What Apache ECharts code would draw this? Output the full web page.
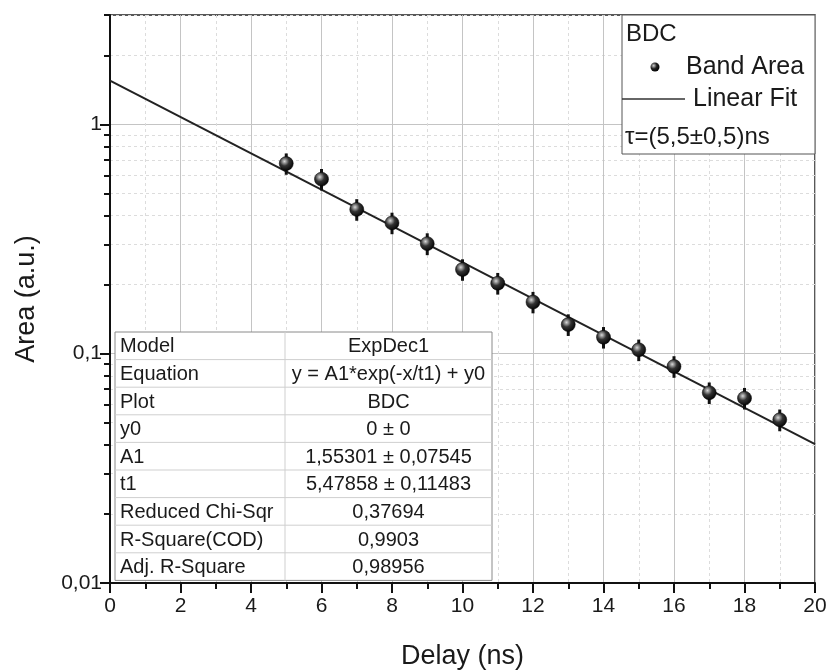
<!DOCTYPE html>
<html>
<head>
<meta charset="utf-8">
<script src="https://cdn.jsdelivr.net/npm/echarts@6/dist/echarts.min.js"></script>
<style>html,body{margin:0;padding:0;background:#fff}#c{width:830px;height:671px}</style>
</head>
<body>
<div id="c"></div>
<script>
// ---- data ----
const delays = [5, 6, 7, 8, 9, 10, 11, 12, 13, 14, 15, 16, 17, 18, 19];
const areas = [0.675, 0.577, 0.426, 0.372, 0.302, 0.233, 0.203, 0.168, 0.134, 0.118, 0.104, 0.088, 0.0676, 0.064, 0.0515];
const areaErr = [0.072, 0.062, 0.046, 0.040, 0.033, 0.025, 0.022, 0.018, 0.0145, 0.0127, 0.0112, 0.0095, 0.0073, 0.0069, 0.0056];
const fitX = [0, 20];
const fitY = [1.553, 0.0403];
const yMajorTicks = [0.01, 0.1, 1];
const yMajorLabels = ['0,01', '0,1', '1'];
const yMinorTicks = [0.02, 0.03, 0.04, 0.05, 0.06, 0.07, 0.08, 0.09, 0.2, 0.3, 0.4, 0.5, 0.6, 0.7, 0.8, 0.9, 2, 3];
const xTickLabels = ['0', '2', '4', '6', '8', '10', '12', '14', '16', '18', '20'];
const tableNames = ['Model', 'Equation', 'Plot', 'y0', 'A1', 't1', 'Reduced Chi-Sqr', 'R-Square(COD)', 'Adj. R-Square'];
const tableValues = ['ExpDec1', 'y = A1*exp(-x/t1) + y0', 'BDC', '0 ± 0', '1,55301 ± 0,07545', '5,47858 ± 0,11483', '0,37694', '0,9903', '0,98956'];
const legendTitle = 'BDC';
const legendPoints = 'Band Area';
const legendFit = 'Linear Fit';
const legendTau = 'τ=(5,5±0,5)ns';

const FONT = 'Liberation Sans, Arial, sans-serif';
const TXT = '#1a1a1a';
const ZG = 100;

const chart = echarts.init(document.getElementById('c'), null, { renderer: 'canvas' });

const scatterData = delays.map((d, i) => [d, areas[i]]);
const errData = delays.map((d, i) => [d, areas[i] - areaErr[i], areas[i] + areaErr[i]]);
const fitData = fitX.map((x, i) => [x, fitY[i]]);

const logOpts = { type: 'log', logBase: 10, min: 0.01, max: 3 };

// table graphic
const tL = 115, tR = 492, tDiv = 285, tT = 332, rowH = 27.6;
const tableEls = [];
tableEls.push({ type: 'rect', z: ZG, shape: { x: tL, y: tT, width: tR - tL, height: rowH * tableNames.length }, style: { fill: '#fff', stroke: '#8a8a8a', lineWidth: 1 } });
for (let i = 1; i < tableNames.length; i++) {
  tableEls.push({ type: 'line', z: ZG + 1, shape: { x1: tL, y1: tT + rowH * i, x2: tR, y2: tT + rowH * i }, style: { stroke: '#cfcfcf', lineWidth: 1 } });
}
tableEls.push({ type: 'line', z: ZG + 1, shape: { x1: tDiv, y1: tT, x2: tDiv, y2: tT + rowH * tableNames.length }, style: { stroke: '#cfcfcf', lineWidth: 1 } });
tableNames.forEach((n, i) => {
  tableEls.push({ type: 'text', z: ZG + 2, x: tL + 5, y: tT + rowH * i + rowH / 2 + 1, style: { text: n, font: '20px ' + FONT, fill: TXT, textVerticalAlign: 'middle', verticalAlign: 'middle' } });
  tableEls.push({ type: 'text', z: ZG + 2, x: (tDiv + tR) / 2, y: tT + rowH * i + rowH / 2 + 1, style: { text: tableValues[i], font: '20px ' + FONT, fill: TXT, textAlign: 'center', align: 'center', textVerticalAlign: 'middle', verticalAlign: 'middle' } });
});

// legend graphic
const lL = 622, lR = 815, lT = 15, lB = 154;
const legendEls = [
  { type: 'rect', z: ZG, shape: { x: lL, y: lT, width: lR - lL, height: lB - lT }, style: { fill: '#fff', stroke: '#555', lineWidth: 1 } },
  { type: 'text', z: ZG + 2, x: lL + 4, y: 34, style: { text: legendTitle, font: '24px ' + FONT, fill: TXT, verticalAlign: 'middle', textVerticalAlign: 'middle' } },
  { type: 'circle', z: ZG + 2, shape: { cx: 655, cy: 67, r: 4.5 }, style: { fill: { type: 'radial', x: 0.35, y: 0.35, r: 0.7, colorStops: [{ offset: 0, color: '#cfcfcf' }, { offset: 0.5, color: '#222' }, { offset: 1, color: '#000' }] } } },
  { type: 'text', z: ZG + 2, x: 686, y: 67, style: { text: legendPoints, font: '25px ' + FONT, fill: TXT, verticalAlign: 'middle', textVerticalAlign: 'middle' } },
  { type: 'line', z: ZG + 2, shape: { x1: lL, y1: 99, x2: 685, y2: 99 }, style: { stroke: '#333', lineWidth: 1.5 } },
  { type: 'text', z: ZG + 2, x: 693, y: 99, style: { text: legendFit, font: '25px ' + FONT, fill: TXT, verticalAlign: 'middle', textVerticalAlign: 'middle' } },
  { type: 'text', z: ZG + 2, x: lL + 3, y: 137, style: { text: legendTau, font: '24px ' + FONT, fill: TXT, verticalAlign: 'middle', textVerticalAlign: 'middle' } }
];

const option = {
  animation: false,
  backgroundColor: '#fff',
  textStyle: { fontFamily: FONT },
  grid: { left: 110, right: 15, top: 15, bottom: 88, outerBoundsMode: 'none', containLabel: false, show: true, borderColor: '#222', borderWidth: 1.5, backgroundColor: 'transparent' },
  xAxis: [{
    type: 'value', min: 0, max: 20, interval: 2,
    name: 'Delay (ns)', nameLocation: 'middle', nameGap: 60,
    nameTextStyle: { fontSize: 27, color: TXT, fontFamily: FONT },
    axisLine: { show: true, onZero: false, lineStyle: { color: '#111', width: 2 } },
    axisTick: { show: true, inside: false, length: 10, lineStyle: { color: '#111', width: 2 } },
    minorTick: { show: true, splitNumber: 2, length: 6, lineStyle: { color: '#111', width: 2 } },
    axisLabel: { fontSize: 21, color: TXT, margin: 13, fontFamily: FONT, formatter: (v) => xTickLabels[Math.round(v / 2)] },
    splitLine: { show: true, lineStyle: { color: '#c4c4c4', width: 1 } },
    minorSplitLine: { show: true, lineStyle: { color: '#dcdcdc', width: 1, type: [3, 3] } }
  }],
  yAxis: [
    Object.assign({}, logOpts, {
      name: 'Area (a.u.)', nameLocation: 'middle', nameGap: 70, nameRotate: 90,
      nameTextStyle: { fontSize: 27, color: TXT, fontFamily: FONT },
      axisLine: { show: true, onZero: false, lineStyle: { color: '#111', width: 2 } },
      axisTick: { show: true, inside: false, length: 10, lineStyle: { color: '#111', width: 2 }, customValues: yMajorTicks },
      axisLabel: { fontSize: 21, color: TXT, margin: 8, fontFamily: FONT, customValues: yMajorTicks,
        formatter: (v) => { const i = yMajorTicks.findIndex(t => Math.abs(t - v) < 1e-9); return i >= 0 ? yMajorLabels[i] : ''; } },
      splitLine: { show: true, lineStyle: { color: '#c4c4c4', width: 1 } }
    }),
    Object.assign({}, logOpts, {
      position: 'left',
      axisLine: { show: false },
      axisTick: { show: true, inside: false, length: 6, lineStyle: { color: '#111', width: 2 }, customValues: yMinorTicks },
      axisLabel: { show: false },
      splitLine: { show: true, lineStyle: { color: '#dcdcdc', width: 1, type: [3, 3] } }
    })
  ],
  graphic: [
    { type: 'group', z: ZG, children: tableEls },
    { type: 'group', z: ZG, children: legendEls }
  ],
  series: [
    {
      type: 'line', name: 'Linear Fit', data: fitData, showSymbol: false, symbol: 'none',
      lineStyle: { color: '#222', width: 2 }, z: 3, silent: true
    },
    {
      type: 'custom', name: 'err', data: errData, z: 4,
      renderItem: (params, api) => {
        const x = api.value(0);
        const lo = api.coord([x, api.value(1)]);
        const hi = api.coord([x, api.value(2)]);
        return { type: 'line', shape: { x1: lo[0], y1: lo[1], x2: hi[0], y2: hi[1] }, style: { stroke: '#111', lineWidth: 3 } };
      }
    },
    {
      type: 'scatter', name: 'Band Area', data: scatterData, symbol: 'circle', symbolSize: 14, z: 5,
      itemStyle: {
        color: { type: 'radial', x: 0.38, y: 0.35, r: 0.7, colorStops: [{ offset: 0, color: '#d8d8d8' }, { offset: 0.45, color: '#333' }, { offset: 1, color: '#000' }] },
        borderColor: '#000', borderWidth: 0.5, opacity: 1
      }
    }
  ]
};
chart.setOption(option);
</script>
</body>
</html>
